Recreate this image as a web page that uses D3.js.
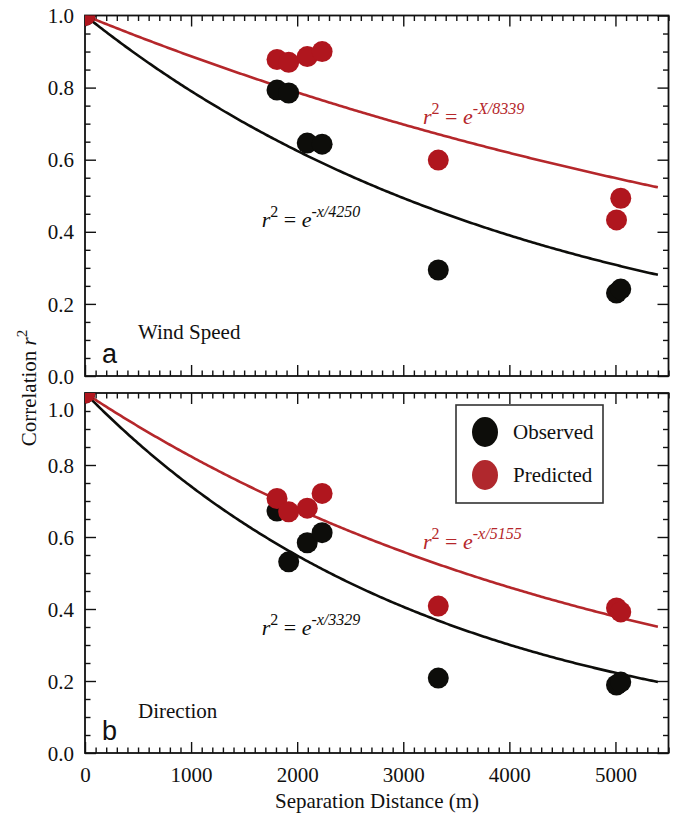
<!DOCTYPE html>
<html>
<head>
<meta charset="utf-8">
<script src="https://cdn.jsdelivr.net/npm/d3@7"></script>
<style>
  body { margin: 0; background: #fff; }
  text { font-family: "Liberation Serif", "Times New Roman", serif; fill: #111; }
</style>
</head>
<body>
<svg id="chart" width="675" height="815"></svg>
<script>
// data
const distances = [0, 1810, 1920, 2095, 2235, 3330, 5010, 5050];
const speedObserved = [1, 0.793, 0.785, 0.646, 0.643, 0.294, 0.230, 0.241];
const speedPredicted = [1, 0.878, 0.870, 0.886, 0.900, 0.599, 0.433, 0.493];
const dirObserved = [1, 0.672, 0.531, 0.584, 0.612, 0.208, 0.189, 0.197];
const dirPredicted = [1, 0.707, 0.670, 0.680, 0.721, 0.408, 0.403, 0.392];

// exponential fits r^2 = exp(-x / L)
const observedFit = [4250, 3329];
const predictedFit = [8339, 5155];
const predictedVar = ["X", "x"];

const panelNames = ["Wind Speed", "Direction"];
const panelLetters = ["a", "b"];
const xTicks = [0, 1000, 2000, 3000, 4000, 5000];
const yTicks = [0, 0.2, 0.4, 0.6, 0.8, 1.0];
const legendLabels = ["Observed", "Predicted"];

const black = "#0d0d0a", red = "#b0161e", redLine = "#b5272b";

var svg = d3.select("#chart");

var x = d3.scaleLinear().domain([0, 5500]).range([85, 668.5]);
var panels = [
  { y: d3.scaleLinear().domain([0, 1]).range([376, 15.5]), obs: speedObserved, pred: speedPredicted },
  { y: d3.scaleLinear().domain([0, 1]).range([753, 393]), obs: dirObserved, pred: dirPredicted }
];

const minorX = d3.range(0, 5501, 100).filter(d => d % 1000 !== 0);
const minorY = d3.range(0, 1.001, 0.05).map(d => +d.toFixed(2)).filter(d => Math.round(d * 100) % 20 !== 0);

panels.forEach((p, i) => {
  var g = svg.append("g");
  var y = p.y;
  var top = y.range()[1], bottom = y.range()[0];

  g.append("clipPath").attr("id", "clip" + i)
    .append("rect")
    .attr("x", x.range()[0]).attr("y", top)
    .attr("width", x.range()[1] - x.range()[0]).attr("height", bottom - top);

  // axes with inward ticks on all four sides
  var addAxis = (axis, tx, ty, size, vals, label) => {
    var a = g.append("g").attr("transform", `translate(${tx},${ty})`)
      .call(axis.tickValues(vals).tickSizeInner(-size).tickSizeOuter(0)
        .tickFormat(label ? label : ""));
    a.select(".domain").remove();
    a.selectAll("line").attr("stroke", "#111").attr("stroke-width", 1.4);
    return a;
  };

  var xb = addAxis(d3.axisBottom(x), 0, bottom, 11, xTicks, i === 1 ? d3.format("d") : null);
  addAxis(d3.axisBottom(x), 0, bottom, 5.5, minorX, null);
  addAxis(d3.axisTop(x), 0, top, 11, xTicks, null);
  addAxis(d3.axisTop(x), 0, top, 5.5, minorX, null);
  var yl = addAxis(d3.axisLeft(y), x.range()[0], 0, 11, yTicks, d3.format(".1f"));
  addAxis(d3.axisLeft(y), x.range()[0], 0, 5.5, minorY, null);
  addAxis(d3.axisRight(y), x.range()[1], 0, 11, yTicks, null);
  addAxis(d3.axisRight(y), x.range()[1], 0, 5.5, minorY, null);

  xb.selectAll("text").attr("font-size", 21).attr("dy", "1.0em").attr("y", 8);
  yl.selectAll("text").attr("font-size", 21).attr("x", -11).attr("dy", "0.34em");
  if (i === 1) {
    // the 1.0 label of panel b sits a little lower, clear of panel a's 0.0
    yl.selectAll("text").filter(d => d === 1).attr("dy", "1.1em");
  }

  g.append("rect")
    .attr("x", x.range()[0]).attr("y", top)
    .attr("width", x.range()[1] - x.range()[0]).attr("height", bottom - top)
    .attr("fill", "none").attr("stroke", "#111").attr("stroke-width", 1.8);

  var plot = g.append("g").attr("clip-path", `url(#clip${i})`);

  // fitted curves
  var xs = d3.range(0, 5401, 20);
  var line = L => d3.line().x(d => x(d)).y(d => y(Math.exp(-d / L)))(xs);
  plot.append("path").attr("d", line(observedFit[i]))
    .attr("fill", "none").attr("stroke", black).attr("stroke-width", 2.6);
  plot.append("path").attr("d", line(predictedFit[i]))
    .attr("fill", "none").attr("stroke", redLine).attr("stroke-width", 2.6);

  // points
  plot.selectAll(".obs").data(distances).enter().append("circle")
    .attr("cx", d => x(d)).attr("cy", (d, k) => y(p.obs[k]))
    .attr("r", 10.5).attr("fill", black);
  plot.selectAll(".pred").data(distances).enter().append("circle")
    .attr("cx", d => x(d)).attr("cy", (d, k) => y(p.pred[k]))
    .attr("r", 10.5).attr("fill", red);

  // equation labels
  var eq = (xv, yv, color, v, L) => {
    var t = g.append("text").attr("x", x(xv)).attr("y", y(yv))
      .attr("font-size", 22).attr("font-style", "italic").style("fill", color);
    t.append("tspan").text("r");
    t.append("tspan").attr("dy", -10).attr("font-size", 16).attr("font-style", "normal").text("2");
    t.append("tspan").attr("dy", 10).attr("font-style", "normal").text(" = ");
    t.append("tspan").text("e");
    t.append("tspan").attr("dy", -10).attr("font-size", 16).text(`-${v}/${L}`);
  };
  eq(1665, i === 0 ? 0.414 : 0.328, black, "x", observedFit[i]);
  eq(3186, i === 0 ? 0.699 : 0.566, redLine, predictedVar[i], predictedFit[i]);

  // panel letter and name
  g.append("text").attr("x", 102).attr("y", bottom - 13)
    .attr("font-size", 27).style("font-family", "'Liberation Sans', Arial, sans-serif")
    .text(panelLetters[i]);
  g.append("text").attr("x", 138).attr("y", bottom - (i === 0 ? 37 : 35))
    .attr("font-size", 21).text(panelNames[i]);
});

// legend in panel b
var leg = svg.append("g");
leg.append("rect").attr("x", 456).attr("y", 405).attr("width", 147).attr("height", 98)
  .attr("fill", "#fff").attr("stroke", "#333").attr("stroke-width", 1.6);
legendLabels.forEach((lab, k) => {
  var cy = 432 + k * 43;
  leg.append("ellipse").attr("cx", 485).attr("cy", cy).attr("rx", 13).attr("ry", 15)
    .attr("fill", k === 0 ? black : "#b0282d");
  leg.append("text").attr("x", 513).attr("y", cy + 7).attr("font-size", 21).text(lab);
});

// axis titles
svg.append("text").attr("x", 377).attr("y", 808).attr("text-anchor", "middle")
  .attr("font-size", 21).text("Separation Distance (m)");
var yt = svg.append("text").attr("transform", "translate(36,388) rotate(-90)")
  .attr("text-anchor", "middle").attr("font-size", 21);
yt.append("tspan").text("Correlation ");
yt.append("tspan").attr("font-style", "italic").text("r");
yt.append("tspan").attr("dy", -9).attr("font-size", 15).text("2");
</script>
</body>
</html>
